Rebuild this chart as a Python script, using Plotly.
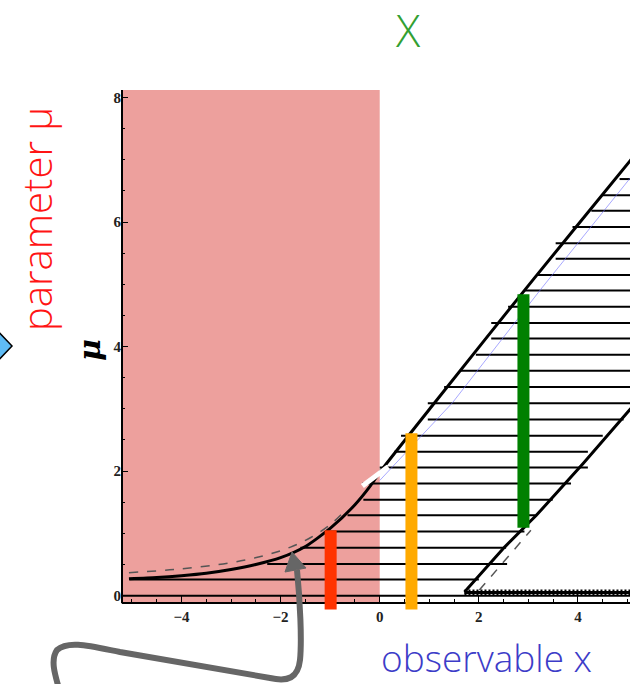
import plotly.graph_objects as go

# ---- axis window -------------------------------------------------------
x_range = [-5.2, 5.05]
mu_range = [-0.23, 8.12]
mu_axis = -0.12          # where the observable axis sits

# ---- horizontal acceptance intervals (one per mu) ------------------------
mu_levels = [0.00, 0.26, 0.51, 0.77, 1.03, 1.29, 1.54, 1.80, 2.06, 2.31,
             2.57, 2.83, 3.09, 3.35, 3.61, 3.87, 4.13, 4.38, 4.64, 4.90,
             5.15, 5.41, 5.66, 5.92, 6.18, 6.43, 6.69]
x_left = [-5.2, -5.05, -2.27, -1.60, -1.09, -0.65, -0.33, -0.35, 0.00, 0.29,
          0.43, 0.97, 0.97, 1.30, 1.64, 1.94, 2.25, 2.25, 2.59, 2.92,
          3.19, 3.55, 3.55, 3.89, 4.27, 4.50, 4.84]
x_right = [5.2, 2.00, 2.57, 2.55, 2.92, 3.15, 3.49, 3.86, 4.20, 4.20,
           4.50, 4.92, 5.2, 5.2, 5.2, 5.2, 5.2, 5.2, 5.2, 5.2,
           5.2, 5.2, 5.2, 5.2, 5.2, 5.2, 5.2]

# ---- belt boundaries ---------------------------------------------------
upper_x = [-5.06, -4.5, -4.0, -3.5, -3.0, -2.5, -2.0, -1.5, -1.0, -0.5, -0.2, 0.0, 1.1, 3.1, 5.05, 5.2]
upper_mu = [0.27, 0.29, 0.32, 0.36, 0.42, 0.50, 0.61, 0.79, 1.08, 1.46, 1.75, 1.98, 3.09, 5.08, 6.98, 7.13]

lower_x = [1.71, 2.52, 3.16, 4.10, 5.04, 5.2]
lower_mu = [0.06, 0.78, 1.29, 2.12, 2.98, 3.12]

floor_x = [1.71, 5.2]
floor_mu = [0.05, 0.05]

# dashed reference limits
upper_dash_x = [-5.06, -4.0, -3.0, -2.3, -1.8, -1.4, -1.0, -0.72]
upper_dash_mu = [0.37, 0.43, 0.53, 0.65, 0.78, 0.93, 1.14, 1.35]
lower_dash_x = [2.01, 3.05]
lower_dash_mu = [0.09, 1.05]

# faint guide line
guide_x = [0.0, 1.47, 3.28, 5.04, 5.2]
guide_mu = [1.85, 3.10, 4.95, 6.70, 6.85]

# white gap across the kink
gap_x = [-0.35, 0.17]
gap_mu = [1.76, 2.07]

# shaded region of unphysical observations
excluded_x = [-5.2, 0.0]

# intervals picked out for three example observations
bar_x = [-0.99, 0.64, 2.90]
bar_lo = [-0.22, -0.22, 1.09]
bar_hi = [1.05, 2.61, 4.84]
bar_colors = ["#ff3300", "#ffaa00", "#008000"]

# ---- figure geometry (pixels) ------------------------------------------
W, H = 630, 684
ML, MR, MT, MB = 122, 0, 90, 74
PW, PH = W - ML - MR, H - MT - MB


def px(x):
    return (x - ML) / PW


def py(y):
    return (H - MB - y) / PH


fig = go.Figure()

# hatching
hx, hy = [], []
for m, a, b in zip(mu_levels, x_left, x_right):
    hx += [a, b, None]
    hy += [m, m, None]
fig.add_trace(go.Scatter(x=hx, y=hy, mode="lines",
                         line=dict(color="black", width=2), hoverinfo="skip"))

fig.add_trace(go.Scatter(x=guide_x, y=guide_mu, mode="lines",
                         line=dict(color="rgba(110,110,255,0.6)", width=1)))

fig.add_trace(go.Scatter(x=upper_dash_x, y=upper_dash_mu, mode="lines",
                         line=dict(color="#555", width=1.5, dash="dash", shape="spline")))
fig.add_trace(go.Scatter(x=lower_dash_x, y=lower_dash_mu, mode="lines",
                         line=dict(color="#555", width=1.5, dash="dash")))

fig.add_trace(go.Scatter(x=upper_x, y=upper_mu, mode="lines",
                         line=dict(color="black", width=3, shape="spline", smoothing=0.6)))
fig.add_trace(go.Scatter(x=lower_x, y=lower_mu, mode="lines",
                         line=dict(color="black", width=3)))
fig.add_trace(go.Scatter(x=floor_x, y=floor_mu, mode="lines",
                         line=dict(color="black", width=3)))
fig.add_trace(go.Scatter(x=floor_x, y=floor_mu, mode="lines",
                         line=dict(color="black", width=6, dash="2px,2px")))

fig.add_trace(go.Scatter(x=gap_x, y=gap_mu, mode="lines",
                         line=dict(color="white", width=5)))

for xb, lo, hi, c in zip(bar_x, bar_lo, bar_hi, bar_colors):
    fig.add_trace(go.Scatter(x=[xb, xb], y=[lo, hi], mode="lines",
                             line=dict(color=c, width=12)))

shapes = [
    dict(type="rect", xref="x", yref="y", x0=excluded_x[0], x1=excluded_x[1],
         y0=mu_axis, y1=mu_range[1], fillcolor="rgb(237,160,157)",
         line=dict(width=0), layer="below"),
    # left frame line
    dict(type="line", xref="paper", yref="paper", x0=0, x1=0,
         y0=(mu_axis - mu_range[0]) / (mu_range[1] - mu_range[0]), y1=1,
         line=dict(color="black", width=2)),
    # curved pointer to the limit curve
    dict(type="path", xref="paper", yref="paper",
         path=("M {},{} C {},{} {},{} {},{} C {},{} {},{} {},{} L {},{} "
               "C {},{} {},{} {},{} C {},{} {},{} {},{}").format(
             px(297), py(570), px(300), py(600), px(302), py(640), px(300), py(660),
             px(298), py(678), px(288), py(682), px(270), py(678),
             px(120), py(652),
             px(90), py(646), px(68), py(640), px(57), py(650),
             px(50), py(660), px(55), py(675), px(60), py(692)),
         line=dict(color="#666", width=6)),
    dict(type="path", xref="paper", yref="paper",
         path="M {},{} L {},{} L {},{} Z".format(px(292), py(552), px(285), py(572),
                                                  px(306), py(568)),
         fillcolor="#666", line=dict(color="#666", width=1)),
    # blue diamond at the left edge
    dict(type="path", xref="paper", yref="paper",
         path="M {},{} L {},{} L {},{} L {},{} Z".format(px(12), py(346), px(-6), py(327),
                                                          px(-24), py(346), px(-6), py(365)),
         fillcolor="rgb(95,188,245)", line=dict(color="black", width=1.5)),
]

annotations = [
    dict(text="X", xref="paper", yref="paper", x=px(408), y=py(30),
         xanchor="center", yanchor="middle", showarrow=False,
         font=dict(family="Open Sans", size=45, color="rgb(50,160,50)", weight=300)),
    dict(text="parameter μ", xref="paper", yref="paper", x=px(36), y=py(219),
         xanchor="center", yanchor="middle", textangle=-90, showarrow=False,
         font=dict(family="Open Sans", size=40, color="rgb(255,20,20)", weight=300)),
    dict(text="observable x", xref="paper", yref="paper", x=px(486), y=py(657),
         xanchor="center", yanchor="middle", showarrow=False,
         font=dict(family="Open Sans", size=37, color="rgb(60,60,200)", weight=300)),
]

tickfont = dict(family="Liberation Serif", size=15, color="#222", weight="bold")

fig.update_layout(
    width=W, height=H,
    margin=dict(l=ML, r=MR, t=MT, b=MB),
    paper_bgcolor="white", plot_bgcolor="white",
    showlegend=False,
    shapes=shapes,
    annotations=annotations,
    xaxis=dict(range=x_range, anchor="free",
               position=(mu_axis - mu_range[0]) / (mu_range[1] - mu_range[0]),
               showgrid=False, zeroline=False, showline=True, linecolor="black",
               linewidth=2, mirror="ticks", ticks="inside", ticklen=6,
               tickcolor="black", tickwidth=1, dtick=2, tick0=0,
               tickfont=tickfont, layer="below traces",
               minor=dict(dtick=0.5, ticks="inside", ticklen=3,
                          tickcolor="black", tickwidth=1, showgrid=False)),
    yaxis=dict(range=mu_range, showgrid=False, zeroline=False, showline=False,
               ticks="inside", ticklen=6, tickcolor="black", tickwidth=1,
               dtick=2, tick0=0, tickfont=tickfont,
               title=dict(text="μ", standoff=4,
                          font=dict(family="DejaVu Serif", size=30, color="black",
                                    style="italic", weight="bold")),
               minor=dict(dtick=0.5, ticks="inside", ticklen=3,
                          tickcolor="black", tickwidth=1, showgrid=False)),
)

fig.write_html("out.html")
